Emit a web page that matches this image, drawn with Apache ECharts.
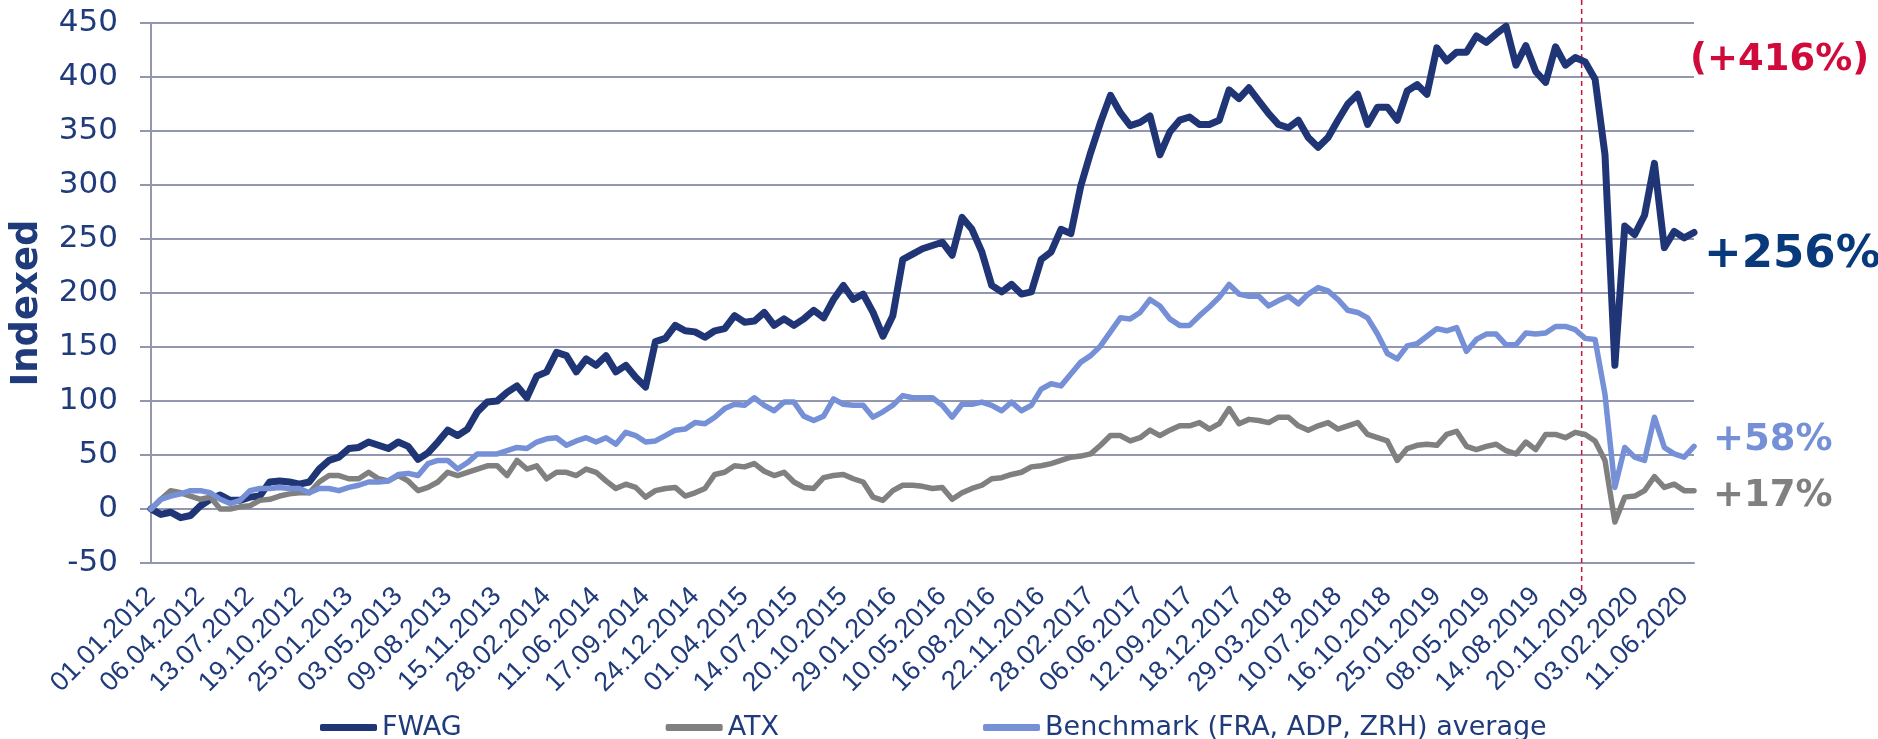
<!DOCTYPE html>
<html>
<head>
<meta charset="utf-8">
<script src="https://cdn.jsdelivr.net/npm/echarts@6/dist/echarts.min.js"></script>
<style>
    html, body { margin: 0; padding: 0; background: #fff; }
    #chart { width: 1878px; height: 739px; }
</style>
</head>
<body>
<div id="chart"></div>
<script>
// x axis: trading-day index, one label every 70 trading days
const tickLabels = [
    "01.01.2012", "06.04.2012", "13.07.2012", "19.10.2012", "25.01.2013", "03.05.2013",
    "09.08.2013", "15.11.2013", "28.02.2014", "11.06.2014", "17.09.2014", "24.12.2014",
    "01.04.2015", "14.07.2015", "20.10.2015", "29.01.2016", "10.05.2016", "16.08.2016",
    "22.11.2016", "28.02.2017", "06.06.2017", "12.09.2017", "18.12.2017", "29.03.2018",
    "10.07.2018", "16.10.2018", "25.01.2019", "08.05.2019", "14.08.2019", "20.11.2019",
    "03.02.2020", "11.06.2020"
];
const LABEL_STEP = 70;
const SAMPLE_STEP = 14;   // values below are read every 14 trading days
const LAST_INDEX = 2184;
const covidMarkerIdx = 2025;

const seriesNames = ["FWAG", "ATX", "Benchmark (FRA, ADP, ZRH) average"];

const fwag = [
    0, -5, -3, -8, -6, 3, 9, 13, 8, 8,
    11, 12, 25, 26, 25, 23, 25, 37, 45, 48,
    56, 57, 62, 59, 56, 62, 58, 46, 52, 62,
    73, 68, 74, 90, 99, 100, 108, 114, 103, 123,
    127, 145, 142, 127, 139, 133, 142, 127, 133, 122,
    113, 155, 158, 170, 165, 164, 159, 165, 167, 179,
    173, 174, 182, 170, 176, 170, 176, 184, 177, 194,
    207, 194, 199, 182, 160, 179, 231, 236, 241, 244,
    247, 235, 270, 259, 238, 207, 201, 208, 199, 201,
    231, 238, 259, 255, 299, 330, 358, 383, 367, 355,
    358, 364, 328, 349, 360, 363, 356, 356, 360, 388,
    380, 390, 378, 366, 356, 353, 360, 344, 335, 344,
    360, 375, 384, 356, 372, 372, 360, 387, 393, 384,
    427, 415, 423, 423, 438, 432, 440, 447, 411, 429,
    405, 395, 428, 411, 418, 414, 398, 328, 133, 262,
    254, 272, 320, 242, 257, 251, 256
];

const atx = [
    0, 9, 17, 15, 12, 9, 11, 0, 0, 2,
    3, 8, 9, 12, 14, 15, 15, 25, 31, 31,
    28, 28, 34, 28, 26, 31, 26, 17, 20, 25,
    34, 31, 34, 37, 40, 40, 31, 45, 37, 40,
    28, 34, 34, 31, 37, 34, 26, 19, 23, 20,
    11, 17, 19, 20, 12, 15, 19, 32, 34, 40,
    39, 42, 35, 31, 34, 25, 20, 19, 29, 31,
    32, 28, 25, 11, 8, 17, 22, 22, 21, 19,
    20, 9, 15, 19, 22, 28, 29, 32, 34, 39,
    40, 42, 45, 48, 49, 51, 59, 68, 68, 63,
    66, 73, 68, 73, 77, 77, 80, 74, 79, 93,
    79, 83, 82, 80, 85, 85, 77, 73, 77, 80,
    74, 77, 80, 69, 66, 63, 45, 56, 59, 60,
    59, 69, 72, 58, 55, 58, 60, 54, 51, 62,
    55, 69, 69, 66, 71, 69, 63, 45, -12, 11,
    12, 17, 30, 20, 23, 17, 17
];

const benchmark = [
    0, 9, 12, 14, 17, 17, 15, 9, 5, 8,
    17, 19, 19, 20, 19, 19, 15, 19, 19, 17,
    20, 22, 25, 25, 26, 32, 33, 31, 42, 45,
    45, 37, 43, 51, 51, 51, 54, 57, 56, 62,
    65, 66, 59, 63, 66, 62, 66, 60, 71, 68,
    62, 63, 68, 73, 74, 80, 79, 85, 93, 97,
    96, 103, 96, 91, 99, 99, 86, 82, 86, 102,
    97, 96, 96, 85, 90, 96, 105, 103, 103, 103,
    96, 85, 97, 97, 99, 96, 91, 99, 91, 96,
    111, 116, 114, 125, 136, 142, 151, 164, 177, 176,
    182, 194, 188, 176, 170, 170, 179, 187, 196, 208,
    199, 197, 197, 188, 193, 197, 190, 199, 205, 202,
    194, 184, 182, 177, 162, 144, 139, 151, 153, 160,
    167, 165, 168, 146, 157, 162, 162, 152, 152, 163,
    162, 163, 169, 169, 166, 158, 157, 106, 20, 57,
    48, 45, 85, 57, 51, 48, 58
];

const endNotes = ["(+416%)", "+256%", "+58%", "+17%"];

const navy = "#1F3B7B";
const gridColor = "#9296AE";
const lineColors = ["#1F3576", "#808080", "#7690D8"];

const toPoints = values => values.map((v, k) => [k * SAMPLE_STEP, v]);

const chart = echarts.init(document.getElementById("chart"));

chart.setOption({
    backgroundColor: "#fff",
    animation: false,
    grid: { left: 151, top: 23, width: 1543, height: 540, containLabel: false },
    legend: {
        data: seriesNames,
        left: 315,
        top: 709,
        itemWidth: 57,
        itemHeight: 7,
        itemGap: 204,
        icon: "roundRect",
        textStyle: { fontFamily: "DejaVu Sans", fontSize: 27, color: navy }
    },
    xAxis: {
        type: "value",
        min: 0,
        max: LAST_INDEX,
        interval: LABEL_STEP,
        axisLine: { show: true, onZero: false, lineStyle: { color: gridColor, width: 2 } },
        axisTick: { show: false },
        splitLine: { show: false },
        axisLabel: {
            rotate: 45,
            margin: 29,
            showMaxLabel: false,
            fontFamily: "Liberation Sans",
            fontSize: 27,
            color: navy,
            formatter: v => tickLabels[v / LABEL_STEP] ?? ""
        }
    },
    yAxis: {
        type: "value",
        min: -50,
        max: 450,
        interval: 50,
        axisLine: { show: true, onZero: false, lineStyle: { color: gridColor, width: 2 } },
        axisTick: { show: true, length: 11, lineStyle: { color: gridColor, width: 2 } },
        splitLine: { lineStyle: { color: gridColor, width: 2 } },
        axisLabel: { fontFamily: "DejaVu Sans", fontSize: 31, color: navy, margin: 33 }
    },
    series: [fwag, atx, benchmark].map((values, i) => ({
        name: seriesNames[i],
        type: "line",
        data: toPoints(values),
        color: lineColors[i],
        symbol: "none",
        lineStyle: { width: i === 0 ? 7 : 5.5, color: lineColors[i], cap: "round", join: "round" }
    }))
});

const markerX = chart.convertToPixel({ xAxisIndex: 0 }, covidMarkerIdx);

chart.setOption({
    graphic: [
        {
            type: "line",
            shape: { x1: markerX, y1: 0, x2: markerX, y2: 595 },
            style: { stroke: "#D0103A", lineWidth: 1.5, lineDash: [5, 4] },
            z: 1
        },
        {
            type: "text",
            x: 27,
            y: 303,
            rotation: Math.PI / 2,
            style: {
                text: "Indexed",
                fontFamily: "DejaVu Sans",
                fontWeight: "bold",
                fontSize: 37,
                fill: navy,
                align: "center",
                verticalAlign: "middle"
            }
        },
        {
            type: "text", x: 1690, y: 60,
            style: { text: endNotes[0], fontFamily: "DejaVu Sans", fontWeight: "bold", fontSize: 37, fill: "#D10A3C", verticalAlign: "middle" }
        },
        {
            type: "text", x: 1704, y: 255,
            style: { text: endNotes[1], fontFamily: "DejaVu Sans", fontWeight: "bold", fontSize: 45, fill: "#08397A", verticalAlign: "middle" }
        },
        {
            type: "text", x: 1713, y: 440,
            style: { text: endNotes[2], fontFamily: "DejaVu Sans", fontWeight: "bold", fontSize: 37, fill: "#7690D8", verticalAlign: "middle" }
        },
        {
            type: "text", x: 1713, y: 496,
            style: { text: endNotes[3], fontFamily: "DejaVu Sans", fontWeight: "bold", fontSize: 37, fill: "#808080", verticalAlign: "middle" }
        }
    ]
});
</script>
</body>
</html>
